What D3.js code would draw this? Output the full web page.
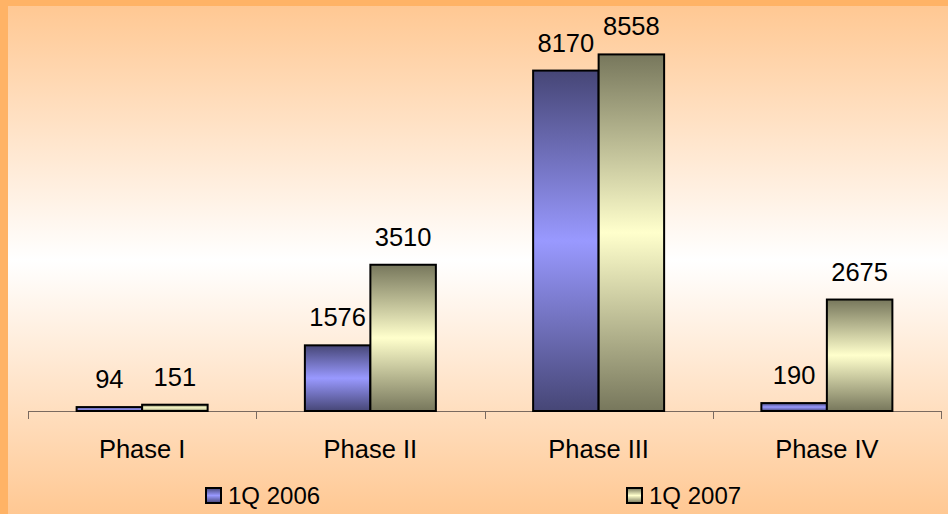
<!DOCTYPE html>
<html>
<head>
<meta charset="utf-8">
<script src="https://cdn.jsdelivr.net/npm/d3@7/dist/d3.min.js"></script>
<style>
  html, body { margin: 0; padding: 0; background: #ffb366; }
  svg { display: block; font-family: "Liberation Sans", Arial, sans-serif; }
</style>
</head>
<body>
<svg id="chart" width="948" height="514"></svg>
<script>
const categories = ["Phase I", "Phase II", "Phase III", "Phase IV"];
const seriesNames = ["1Q 2006", "1Q 2007"];
const values2006 = [94, 1576, 8170, 190];
const values2007 = [151, 3510, 8558, 2675];
const seriesValues = [values2006, values2007];
const yMax = 9000;

const W = 948, H = 514;
const svg = d3.select("#chart");
const defs = svg.append("defs");

// Panel background: orange at top and bottom fading to white in the middle
const bg = defs.append("linearGradient").attr("id", "bg")
  .attr("x1", 0).attr("y1", 0).attr("x2", 0).attr("y2", 1);
bg.append("stop").attr("offset", "0%").attr("stop-color", "#ffc893");
bg.append("stop").attr("offset", "50%").attr("stop-color", "#ffffff");
bg.append("stop").attr("offset", "100%").attr("stop-color", "#ffc893");

svg.append("rect").attr("width", W).attr("height", H).attr("fill", "#ffb366");
svg.append("rect").attr("x", 8).attr("y", 6).attr("width", W - 8).attr("height", H - 6)
  .attr("fill", "url(#bg)");

// Bar fills: dark at top and bottom edges, light in the middle
const barColors = [
  { dark: "#464676", light: "#9999ff" },
  { dark: "#77775c", light: "#ffffcc" }
];
barColors.forEach((c, i) => {
  const g = defs.append("linearGradient").attr("id", "bar" + i)
    .attr("x1", 0).attr("y1", 0).attr("x2", 0).attr("y2", 1);
  g.append("stop").attr("offset", "0%").attr("stop-color", c.dark);
  g.append("stop").attr("offset", "50%").attr("stop-color", c.light);
  g.append("stop").attr("offset", "100%").attr("stop-color", c.dark);
});

const plotLeft = 28, plotRight = 941, baseY = 411, topY = 36;

const x0 = d3.scaleBand().domain(categories).range([plotLeft, plotRight]).padding(0);
const groupW = x0.bandwidth() * 131 / 228.25;
const x1 = d3.scaleBand().domain(seriesNames).range([0, groupW]).padding(0);
const y = d3.scaleLinear().domain([0, yMax]).range([baseY, topY]);

// Category axis with ticks at band boundaries
const axisG = svg.append("g");
axisG.append("line").attr("x1", plotLeft).attr("x2", plotRight)
  .attr("y1", baseY + 0.5).attr("y2", baseY + 0.5)
  .attr("stroke", "#7a6a60").attr("stroke-width", 1);
const tickXs = categories.map(c => x0(c)).concat([x0(categories[categories.length - 1]) + x0.bandwidth()]);
axisG.selectAll("line.tick").data(tickXs).enter().append("line")
  .attr("class", "tick")
  .attr("x1", d => Math.round(d) + 0.5).attr("x2", d => Math.round(d) + 0.5)
  .attr("y1", baseY).attr("y2", baseY + 8)
  .attr("stroke", "#7a6a60").attr("stroke-width", 1);
axisG.selectAll("text.cat").data(categories).enter().append("text")
  .attr("class", "cat")
  .attr("x", d => x0(d) + x0.bandwidth() / 2)
  .attr("y", 458)
  .attr("text-anchor", "middle")
  .attr("font-size", 25.5)
  .attr("fill", "#000")
  .text(d => d);

// Bars
const rows = [];
categories.forEach((c, ci) => {
  seriesNames.forEach((s, si) => {
    rows.push({ cat: c, series: s, si, value: seriesValues[si][ci] });
  });
});
const offset = (x0.bandwidth() - groupW) / 2;

const barG = svg.append("g");
barG.selectAll("rect").data(rows).enter().append("rect")
  .attr("x", d => x0(d.cat) + offset + x1(d.series))
  .attr("y", d => y(d.value))
  .attr("width", x1.bandwidth())
  .attr("height", d => baseY - y(d.value))
  .attr("fill", d => "url(#bar" + d.si + ")")
  .attr("stroke", "#000")
  .attr("stroke-width", 2);

// Value labels
barG.selectAll("text").data(rows).enter().append("text")
  .attr("x", d => x0(d.cat) + offset + x1(d.series) + x1.bandwidth() / 2)
  .attr("y", d => y(d.value) - 19)
  .attr("text-anchor", "middle")
  .attr("font-size", 25.5)
  .attr("fill", "#000")
  .text(d => d.value);

// Legend
const legendX = [206, 627];
const legend = svg.append("g");
seriesNames.forEach((s, i) => {
  legend.append("rect")
    .attr("x", legendX[i]).attr("y", 488)
    .attr("width", 15).attr("height", 15)
    .attr("fill", "url(#bar" + i + ")")
    .attr("stroke", "#000").attr("stroke-width", 2);
  legend.append("text")
    .attr("x", legendX[i] + 22).attr("y", 504)
    .attr("font-size", 24)
    .attr("fill", "#000")
    .text(s);
});
</script>
</body>
</html>
